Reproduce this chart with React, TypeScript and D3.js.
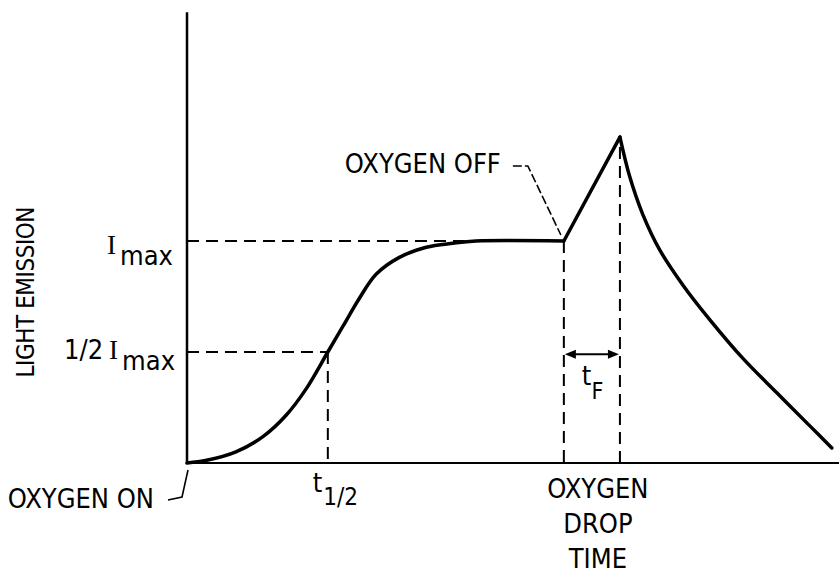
import * as d3 from 'd3';

// Curva de emisión de luz (tiempo arbitrario 0–100, intensidad relativa a Imax)
const RISE_T = [0, 3, 7.5, 11.7, 15.2, 18.3, 21.6, 23.9, 26.4, 29.0, 32.5, 36.7, 40.8, 44.3, 57.8];
const RISE_I = [0, 0.012, 0.05, 0.12, 0.215, 0.335, 0.5, 0.615, 0.74, 0.85, 0.925, 0.972, 0.99, 1.0, 1.0];

const PEAK_T = [57.8, 66.4];
const PEAK_I = [1.0, 1.468];

const DECAY_T = [66.4, 67.9, 69.9, 72.5, 76.1, 80.2, 85.3, 90.5, 95.6, 98.9];
const DECAY_I = [1.468, 1.29, 1.12, 0.96, 0.8, 0.645, 0.47, 0.315, 0.165, 0.068];

// Marcas de referencia
const T_HALF = 21.6;
const T_OXYGEN_OFF = 57.8;
const T_PEAK = 66.4;
const I_MAX = 1.0;
const I_HALF = 0.5;
const TF_LEVEL = 0.49;
const Y_TOP = 2.03;

const DROP_LABEL = ['OXYGEN', 'DROP', 'TIME'];

const W = 839;
const H = 575;
const FONT = '"Liberation Sans Narrow", "Arial Narrow", "DejaVu Sans Condensed", sans-serif';
const SERIF = '"Liberation Serif", "DejaVu Serif", serif';

const x = d3.scaleLinear().domain([0, 100]).range([187, 839]);
const y = d3.scaleLinear().domain([0, 1]).range([463, 241]);

const zip = (ts: number[], is: number[]) => ts.map((t, i) => [t, is[i]] as [number, number]);

const smooth = d3
  .line<[number, number]>()
  .x((d) => x(d[0]))
  .y((d) => y(d[1]))
  .curve(d3.curveCatmullRom.alpha(0.5));

const straight = d3
  .line<[number, number]>()
  .x((d) => x(d[0]))
  .y((d) => y(d[1]));

const DASH = '12,7';

export default function App() {
  const x0 = x(0);
  const y0 = y(0);
  const xOff = x(T_OXYGEN_OFF);
  const xPeak = x(T_PEAK);
  const xHalf = x(T_HALF);
  const yArrow = y(TF_LEVEL);

  return (
    <svg
      width={W}
      height={H}
      style={{ position: 'absolute', left: 0, top: 0, background: '#fff' }}
      fontFamily={FONT}
    >
      {/* ejes */}
      <line x1={x0} y1={y(Y_TOP)} x2={x0} y2={y0 + 1} stroke="#000" strokeWidth={2.5} />
      <line x1={x0} y1={y0} x2={x(100)} y2={y0} stroke="#000" strokeWidth={2} />

      {/* líneas de referencia */}
      <g stroke="#000" strokeWidth={2} strokeDasharray={DASH} fill="none">
        <line x1={x0} y1={y(I_MAX)} x2={xOff} y2={y(I_MAX)} />
        <line x1={x0} y1={y(I_HALF)} x2={xHalf} y2={y(I_HALF)} />
        <line x1={xHalf} y1={y(I_HALF)} x2={xHalf} y2={y0} />
        <line x1={xOff} y1={y(I_MAX)} x2={xOff} y2={y0} />
        <line x1={xPeak} y1={y(PEAK_I[1]) + 10} x2={xPeak} y2={y0} />
      </g>

      {/* curva */}
      <g stroke="#000" strokeWidth={3.5} fill="none" strokeLinejoin="round" strokeLinecap="round">
        <path d={smooth(zip(RISE_T, RISE_I)) ?? ''} />
        <path d={straight(zip(PEAK_T, PEAK_I)) ?? ''} />
        <path d={smooth(zip(DECAY_T, DECAY_I)) ?? ''} />
      </g>

      {/* flecha tF */}
      <line x1={xOff + 8} y1={yArrow} x2={xPeak - 8} y2={yArrow} stroke="#000" strokeWidth={2} />
      <path d={`M${xOff + 1},${yArrow} l11,-4.5 v9 z`} fill="#000" />
      <path d={`M${xPeak - 1},${yArrow} l-11,-4.5 v9 z`} fill="#000" />
      <text x={xOff + 18} y={yArrow + 31} fontSize={27}>
        t
        <tspan dy={14} fontSize={23}>F</tspan>
      </text>

      {/* etiquetas eje Y */}
      <text
        transform={`translate(34,292) rotate(-90)`}
        textAnchor="middle"
        fontSize={24}
        textLength={171}
        lengthAdjust="spacing"
      >
        LIGHT EMISSION
      </text>
      <text x={107} y={y(I_MAX) + 13} fontSize={27}>
        <tspan fontFamily={SERIF} fontSize={27}>I</tspan>
        <tspan dx={4} dy={11}>max</tspan>
      </text>
      <text x={64} y={y(I_HALF) + 7} fontSize={27}>
        1/2
        <tspan dx={6} fontFamily={SERIF}>I</tspan>
        <tspan dx={4} dy={11}>max</tspan>
      </text>

      {/* etiquetas eje X */}
      <text x={xHalf - 15} y={y0 + 29} fontSize={27}>
        t
        <tspan dx={1} dy={13} fontSize={24}>1/2</tspan>
      </text>
      {DROP_LABEL.map((s, i) => (
        <text key={s} x={(xOff + xPeak) / 2 + 6} y={y0 + 35 + i * 35} fontSize={27} textAnchor="middle">
          {s}
        </text>
      ))}

      {/* anotaciones */}
      <text x={x0 - 33} y={y0 + 45} fontSize={27} textAnchor="end">
        OXYGEN ON
      </text>
      <path
        d={`M${x0 + 1},${y0 + 7} L${x0 - 5},${y0 + 34} L${x0 - 19},${y0 + 37}`}
        stroke="#000"
        strokeWidth={1.6}
        fill="none"
      />
      <text x={xOff - 63} y={173} fontSize={27} textAnchor="end">
        OXYGEN OFF
      </text>
      <path
        d={`M${xOff - 51},166 L${xOff - 36},166 L${xOff - 3},${y(I_MAX) - 6}`}
        stroke="#000"
        strokeWidth={1.6}
        strokeDasharray="9,3"
        fill="none"
      />
    </svg>
  );
}
